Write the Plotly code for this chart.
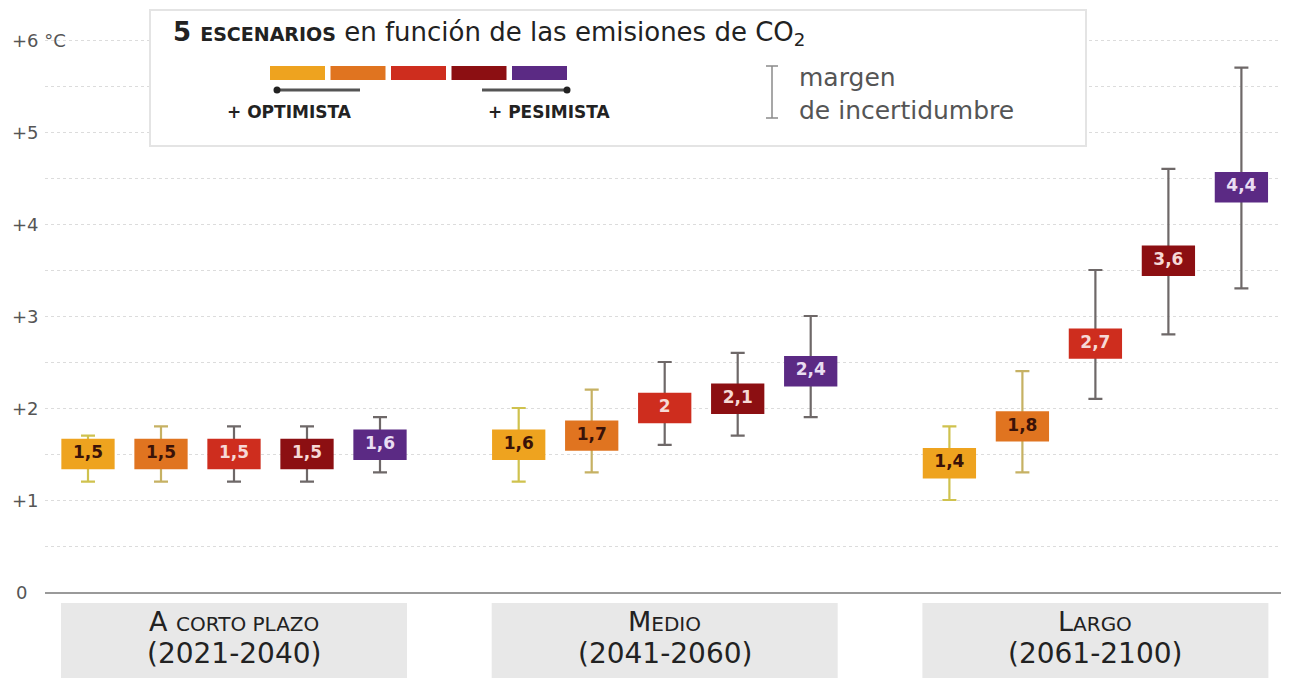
import plotly.graph_objects as go

# ---------------- data ----------------
periods = ["A corto plazo", "Medio", "Largo"]
period_years = ["(2021-2040)", "(2041-2060)", "(2061-2100)"]
scenarios = ["SSP1-1.9", "SSP1-2.6", "SSP2-4.5", "SSP3-7.0", "SSP5-8.5"]

best_1 = [1.5, 1.6, 1.4]
best_2 = [1.5, 1.7, 1.8]
best_3 = [1.5, 2.0, 2.7]
best_4 = [1.5, 2.1, 3.6]
best_5 = [1.6, 2.4, 4.4]

low_1 = [1.2, 1.2, 1.0]
low_2 = [1.2, 1.3, 1.3]
low_3 = [1.2, 1.6, 2.1]
low_4 = [1.2, 1.7, 2.8]
low_5 = [1.3, 1.9, 3.3]

high_1 = [1.7, 2.0, 1.8]
high_2 = [1.8, 2.2, 2.4]
high_3 = [1.8, 2.5, 3.5]
high_4 = [1.8, 2.6, 4.6]
high_5 = [1.9, 3.0, 5.7]

y_ticks = [0, 1, 2, 3, 4, 5, 6]
y_tick_text = ["0", "+1", "+2", "+3", "+4", "+5", "+6 °C"]

# ---------------- styles ----------------
box_colors = ["#EEA31F", "#E07420", "#CE2D1E", "#8C0F12", "#5B2A84"]
err_colors = ["#CFC24E", "#C6B163", "#6E6868", "#6E6868", "#6E6868"]
txt_colors = ["#3A1208", "#3A1208", "#F6D9D6", "#F6D9D6", "#E9DDF2"]
FONT = "DejaVu Sans"
GAP = 5.9          # distance between period groups (in scenario slots)
BOX_W = 0.73
BOX_H = 0.33

OFF = 8            # page body margin of the html page
W, H = 1289, 678
ML = 45 - OFF
PH = 592 - OFF
MB = H - PH
PW = W - ML


def px_x(px):
    return (px - OFF - ML) / PW


def px_y(py):
    return (PH - (py - OFF)) / PH


def fmt(v):
    return f"{v:g}".replace(".", ",")


bests = [best_1, best_2, best_3, best_4, best_5]
lows = [low_1, low_2, low_3, low_4, low_5]
highs = [high_1, high_2, high_3, high_4, high_5]

fig = go.Figure()

# error bars (drawn first, behind the boxes)
for i, name in enumerate(scenarios):
    xs = [g * GAP + (i - 2) for g in range(len(periods))]
    rng = [h - l for h, l in zip(highs[i], lows[i])]
    fig.add_trace(go.Bar(
        x=xs, y=rng, base=lows[i], width=0.02,
        marker=dict(color="rgba(0,0,0,0)", line=dict(width=0)),
        error_y=dict(type="data", symmetric=False, array=[0] * len(xs),
                     arrayminus=rng, color=err_colors[i], thickness=2.2, width=7),
        showlegend=False, hoverinfo="skip"))

# boxes
for i, name in enumerate(scenarios):
    xs = [g * GAP + (i - 2) for g in range(len(periods))]
    fig.add_trace(go.Bar(
        x=xs, y=[BOX_H] * len(xs), base=[v - BOX_H / 2 for v in bests[i]],
        width=BOX_W, name=name,
        marker=dict(color=box_colors[i], line=dict(width=0)),
        showlegend=False,
        customdata=list(zip(lows[i], highs[i], bests[i])),
        hovertemplate=name + ": %{customdata[2]} (%{customdata[0]}–%{customdata[1]})<extra></extra>"))

# value labels
for i, name in enumerate(scenarios):
    xs = [g * GAP + (i - 2) for g in range(len(periods))]
    fig.add_trace(go.Scatter(
        x=xs, y=bests[i], mode="text", text=[fmt(v) for v in bests[i]],
        textfont=dict(family=FONT, size=17, color=txt_colors[i], weight=700),
        showlegend=False, hoverinfo="skip"))

shapes = []
annotations = []


def note(x, y, text, size, color="#222222", xanchor="center", xref="paper", yref="paper", **kw):
    annotations.append(dict(x=x, y=y, xref=xref, yref=yref, text=text, showarrow=False,
                            xanchor=xanchor, yanchor="middle",
                            font=dict(family=FONT, size=size, color=color), **kw))


# y-axis labels
for v, t in zip(y_ticks, y_tick_text):
    note(0, v, t, 18, color="#555555", xanchor="left", yref="y",
         xshift=-35 if v else -31)

# period boxes below axis
for g, (p, yrs) in enumerate(zip(periods, period_years)):
    cx = g * GAP
    shapes.append(dict(type="rect", xref="x", yref="paper",
                       x0=cx - 2.37, x1=cx + 2.37, y0=px_y(603), y1=px_y(700),
                       fillcolor="#E8E8E8", line=dict(width=0), layer="below"))
    words = p.split(" ", 1)
    if len(words) == 2:
        label = f"{words[0]} <span style='font-size:20px'>{words[1].upper()}</span>"
    else:
        label = f"{p[0]}<span style='font-size:20px'>{p[1:].upper()}</span>"
    note(cx, px_y(621), label, 27, xref="x")
    note(cx, px_y(653), yrs, 28, xref="x")

# legend box
shapes.append(dict(type="rect", xref="paper", yref="paper",
                   x0=px_x(150), x1=px_x(1086), y0=px_y(146), y1=px_y(10),
                   fillcolor="white", line=dict(color="#E4E4E4", width=2), layer="above"))
for i, c in enumerate(box_colors):
    x0 = 270 + i * 60.5
    shapes.append(dict(type="rect", xref="paper", yref="paper",
                       x0=px_x(x0), x1=px_x(x0 + 55), y0=px_y(80), y1=px_y(66),
                       fillcolor=c, line=dict(width=0), layer="above"))
# optimist / pessimist lines with dots
for xa, xb, xd in ((277, 360, 277), (482, 567, 567)):
    shapes.append(dict(type="line", xref="paper", yref="paper", x0=px_x(xa), x1=px_x(xb),
                       y0=px_y(90), y1=px_y(90), line=dict(color="#555555", width=3), layer="above"))
    shapes.append(dict(type="circle", xref="paper", yref="paper",
                       x0=px_x(xd - 3.5), x1=px_x(xd + 3.5), y0=px_y(93.5), y1=px_y(86.5),
                       fillcolor="#222222", line=dict(width=0), layer="above"))
# uncertainty symbol
shapes.append(dict(type="line", xref="paper", yref="paper", x0=px_x(772), x1=px_x(772),
                   y0=px_y(66), y1=px_y(118), line=dict(color="#8A8A8A", width=1.5), layer="above"))
for yy in (66, 118):
    shapes.append(dict(type="line", xref="paper", yref="paper", x0=px_x(766), x1=px_x(778),
                       y0=px_y(yy), y1=px_y(yy), line=dict(color="#8A8A8A", width=1.5), layer="above"))

note(px_x(171), px_y(33),
     "<b>5 <span style='font-size:19px'>ESCENARIOS</span></b> en función de las emisiones de CO<sub>2</sub>",
     26, xanchor="left")
note(px_x(289), px_y(112), "<b>+ OPTIMISTA</b>", 17)
note(px_x(549), px_y(112), "<b>+ PESIMISTA</b>", 17)
note(px_x(797), px_y(94), "margen<br>de incertidumbre", 25, color="#555555", xanchor="left",
     align="left")

x0 = -2 - 43 / 73
fig.update_layout(
    width=W, height=H,
    margin=dict(l=ML, r=0, t=0, b=MB, pad=0),
    paper_bgcolor="white", plot_bgcolor="white",
    barmode="overlay",
    showlegend=False,
    xaxis=dict(range=[x0, x0 + PW / 73], showgrid=False, zeroline=False,
               showticklabels=False, ticks="", showline=True,
               linecolor="#9A9A9A", linewidth=2, fixedrange=True),
    yaxis=dict(range=[0, PH / 92], dtick=0.5, tick0=0, showgrid=True,
               gridcolor="#DCDCDC", griddash="dot", gridwidth=1,
               zeroline=False, showticklabels=False, ticks="", fixedrange=True),
    shapes=shapes,
    annotations=annotations,
    font=dict(family=FONT),
)

fig.write_html("out.html")
